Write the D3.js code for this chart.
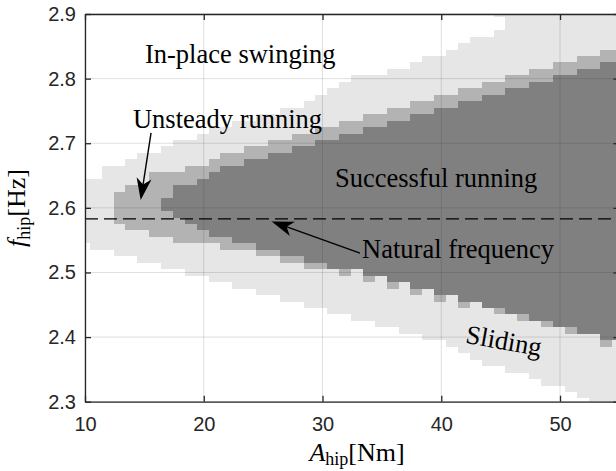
<!DOCTYPE html>
<html><head><meta charset="utf-8">
<script src="https://cdn.jsdelivr.net/npm/d3@7"></script>
<style>body{margin:0;background:#fff}</style>
</head><body><svg id="chart" width="616" height="471"></svg>
<script>
// Hip amplitude grid (cell centres, Nm)
const amplitudes = [9.9,10.9,11.9,12.9,13.9,14.9,15.9,16.9,17.9,18.9,19.9,20.9,21.9,22.9,23.9,24.9,25.9,26.9,27.9,28.9,29.9,30.9,31.9,32.9,33.9,34.9,35.9,36.9,37.9,38.9,39.9,40.9,41.9,42.9,43.9,44.9,45.9,46.9,47.9,48.9,49.9,50.9,51.9,52.9,53.9,54.9];
// Frequency bands per amplitude (cell centres, Hz); null = band absent
const slideHigh = [2.64,2.64,2.66,2.66,2.67,2.68,2.68,2.69,2.70,2.70,2.71,2.72,2.72,2.73,2.73,2.74,2.74,2.75,2.75,2.76,2.77,2.78,2.79,2.80,2.80,2.80,2.81,2.81,2.82,2.83,2.83,2.84,2.85,2.86,2.86,2.87,2.90,2.90,2.90,2.90,2.90,2.90,2.90,2.90,2.90,2.90];
const slideLow  = [2.55,2.54,2.54,2.53,2.53,2.52,2.52,2.51,2.51,2.50,2.50,2.49,2.49,2.48,2.48,2.47,2.47,2.46,2.46,2.45,2.45,2.44,2.44,2.43,2.43,2.42,2.42,2.41,2.41,2.40,2.40,2.39,2.38,2.37,2.36,2.36,2.35,2.35,2.34,2.33,2.33,2.32,2.31,2.30,2.30,2.30];
const unsteadyHigh = [null,null,null,2.62,2.63,2.63,2.65,2.65,2.65,2.66,2.66,2.67,2.68,2.68,2.69,2.69,2.70,2.70,2.71,2.71,2.72,2.72,2.73,2.73,2.74,2.74,2.75,2.75,2.76,2.76,2.77,2.77,2.78,2.78,2.79,2.79,2.80,2.80,2.81,2.81,2.82,2.82,2.83,2.83,2.84,2.84];
const unsteadyLow  = [null,null,null,2.58,2.57,2.57,2.56,2.56,2.55,2.55,2.55,2.55,2.54,2.54,2.54,2.53,2.53,2.52,2.52,2.51,2.51,2.51,2.50,2.51,2.49,2.50,2.48,2.49,2.47,2.48,2.46,2.47,2.45,2.46,2.45,2.44,2.44,2.43,2.43,2.42,2.42,2.41,2.41,2.41,2.39,2.40];
const successHigh = [null,null,null,null,null,null,null,2.61,2.63,2.63,2.64,2.65,2.66,2.66,2.67,2.67,2.68,2.68,2.69,2.69,2.70,2.70,2.71,2.71,2.72,2.72,2.73,2.73,2.74,2.74,2.75,2.75,2.76,2.76,2.77,2.77,2.78,2.78,2.79,2.79,2.80,2.80,2.81,2.81,2.82,2.82];
const successLow  = [null,null,null,null,null,null,null,2.60,2.59,2.58,2.57,2.56,2.56,2.55,2.55,2.54,2.54,2.53,2.53,2.52,2.52,2.51,2.51,2.51,2.50,2.50,2.49,2.49,2.48,2.48,2.47,2.47,2.46,2.46,2.45,2.45,2.44,2.44,2.43,2.43,2.42,2.42,2.41,2.41,2.40,2.40];
// Isolated cells outside the bands
const isolatedCells = [{amp: 44.9, freq: 2.90, level: "slide"}, {amp: 44.9, freq: 2.89, level: "none"}, {amp: 44.9, freq: 2.88, level: "none"}];

const naturalFrequency = 2.583;
const xTicks = [10, 20, 30, 40, 50];
const yTicks = [2.3, 2.4, 2.5, 2.6, 2.7, 2.8, 2.9];

const colours = {none: "#ffffff", slide: "#e6e6e6", unsteady: "#b3b3b3", success: "#808080"};
const ampStep = 1, freqStep = 0.01;

const svg = d3.select("#chart");
const margin = {left: 85, top: 14, right: 619.4, bottom: 401.7};
const x = d3.scaleLinear().domain([10, 55]).range([margin.left, margin.right]);
const y = d3.scaleLinear().domain([2.3, 2.9]).range([margin.bottom, margin.top]);

svg.append("defs").append("clipPath").attr("id", "plot")
  .append("rect").attr("x", x(10)).attr("y", y(2.9))
  .attr("width", x(55) - x(10)).attr("height", y(2.3) - y(2.9));

const cells = svg.append("g").attr("clip-path", "url(#plot)").attr("shape-rendering", "crispEdges");

function band(level, hi, lo) {
  const rows = amplitudes.map((a, i) => ({a, hi: hi[i], lo: lo[i]})).filter(d => d.hi != null);
  cells.selectAll(null).data(rows).join("rect")
    .attr("x", d => x(d.a - ampStep / 2))
    .attr("width", d => x(d.a + ampStep / 2) - x(d.a - ampStep / 2))
    .attr("y", d => y(d.hi + freqStep / 2))
    .attr("height", d => y(d.lo - freqStep / 2) - y(d.hi + freqStep / 2))
    .attr("fill", colours[level]);
}
band("slide", slideHigh, slideLow);
band("unsteady", unsteadyHigh, unsteadyLow);
band("success", successHigh, successLow);
cells.selectAll(null).data(isolatedCells).join("rect")
  .attr("x", d => x(d.amp - ampStep / 2))
  .attr("width", d => x(d.amp + ampStep / 2) - x(d.amp - ampStep / 2))
  .attr("y", d => y(d.freq + freqStep / 2))
  .attr("height", d => y(d.freq - freqStep / 2) - y(d.freq + freqStep / 2))
  .attr("fill", d => colours[d.level]);

// grid
const grid = svg.append("g").attr("stroke", "#262626").attr("stroke-opacity", 0.15).attr("stroke-width", 1);
grid.selectAll(null).data(xTicks).join("line")
  .attr("x1", d => x(d)).attr("x2", d => x(d)).attr("y1", y(2.3)).attr("y2", y(2.9));
grid.selectAll(null).data(yTicks).join("line")
  .attr("x1", x(10)).attr("x2", x(55)).attr("y1", d => y(d)).attr("y2", d => y(d));

// natural frequency
svg.append("line").attr("x1", x(10)).attr("x2", x(55))
  .attr("y1", y(naturalFrequency)).attr("y2", y(naturalFrequency))
  .attr("stroke", "#000").attr("stroke-width", 1.4).attr("stroke-dasharray", "13,6");

// axes
const tickFont = "'Liberation Sans', Arial, sans-serif";
const axisBottom = svg.append("g").attr("transform", `translate(0,${y(2.3)})`)
  .call(d3.axisBottom(x).tickValues(xTicks).tickSizeInner(-6).tickSizeOuter(0).tickPadding(15));
const axisLeft = svg.append("g").attr("transform", `translate(${x(10)},0)`)
  .call(d3.axisLeft(y).tickValues(yTicks).tickFormat(d3.format(".1f")).tickSizeInner(-6).tickSizeOuter(0).tickPadding(9));
const axisTop = svg.append("g").attr("transform", `translate(0,${y(2.9)})`)
  .call(d3.axisTop(x).tickValues(xTicks).tickSizeInner(-6).tickSizeOuter(0).tickFormat(""));
const axisRight = svg.append("g").attr("transform", `translate(${x(55)},0)`)
  .call(d3.axisRight(y).tickValues(yTicks).tickSizeInner(-6).tickSizeOuter(0).tickFormat(""));
[axisBottom, axisLeft, axisTop, axisRight].forEach(g => {
  g.select(".domain").attr("stroke", "#262626").attr("stroke-width", 1.3);
  g.selectAll(".tick line").attr("stroke", "#262626").attr("stroke-width", 1.3);
  g.selectAll(".tick text").attr("fill", "#262626").style("font-family", tickFont).style("font-size", "20px");
});

const serif = "'Liberation Serif', 'Times New Roman', serif";
// axis titles
const xt = svg.append("text").attr("x", 357).attr("y", 461).attr("text-anchor", "middle")
  .style("font-family", serif).style("font-size", "26px").attr("fill", "#000");
xt.append("tspan").style("font-style", "italic").text("A");
xt.append("tspan").attr("dy", 4).style("font-size", "18px").text("hip");
xt.append("tspan").attr("dy", -4).text("[Nm]");

const yt = svg.append("text").attr("transform", `translate(25,208) rotate(-90)`).attr("text-anchor", "middle")
  .style("font-family", serif).style("font-size", "26px").attr("fill", "#000");
yt.append("tspan").style("font-style", "italic").text("f");
yt.append("tspan").attr("dy", 5).style("font-size", "18px").text("hip");
yt.append("tspan").attr("dy", -5).text("[Hz]");

// region annotations
const labels = [
  {text: "In-place swinging", a: 15.05, f: 2.824},
  {text: "Unsteady running", a: 14.04, f: 2.724},
  {text: "Successful running", a: 31.05, f: 2.632},
  {text: "Natural frequency", a: 33.33, f: 2.522}
];
svg.selectAll(null).data(labels).join("text")
  .attr("x", d => x(d.a)).attr("y", d => y(d.f))
  .style("font-family", serif).style("font-size", "26.5px").attr("fill", "#000")
  .text(d => d.text);
svg.append("text").attr("transform", `translate(${x(45.28)},${y(2.395)}) rotate(10)`)
  .attr("text-anchor", "middle").attr("dy", "0.35em")
  .style("font-family", serif).style("font-size", "26.5px").attr("fill", "#000").text("Sliding");

// arrows
const arrows = [
  {from: [15.56, 2.716], to: [14.69, 2.612]},
  {from: [33.16, 2.530], to: [25.72, 2.579]}
];
arrows.forEach(d => {
  const x0 = x(d.from[0]), y0 = y(d.from[1]), x1 = x(d.to[0]), y1 = y(d.to[1]);
  const ang = Math.atan2(y1 - y0, x1 - x0);
  const L = 22, W = 7.5;
  const cos = Math.cos(ang), sin = Math.sin(ang);
  const pt = (u, v) => [x1 - u * cos - v * sin, y1 - u * sin + v * cos];
  svg.append("line").attr("x1", x0).attr("y1", y0).attr("x2", pt(L * 0.7, 0)[0]).attr("y2", pt(L * 0.7, 0)[1])
    .attr("stroke", "#000").attr("stroke-width", 1.4);
  svg.append("path").attr("d", "M" + [[x1, y1], pt(L, W), pt(L * 0.72, 0), pt(L, -W)].map(p => p.join(",")).join("L") + "Z")
    .attr("fill", "#000");
});
</script></body></html>
